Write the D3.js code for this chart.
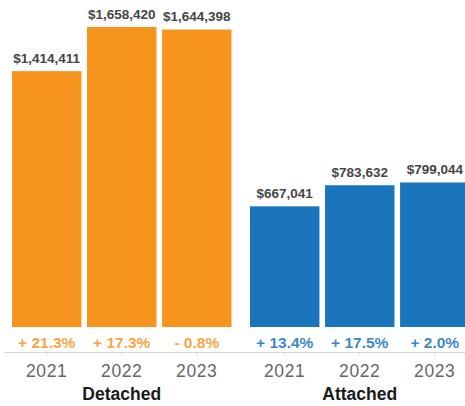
<!DOCTYPE html>
<html>
<head>
<meta charset="utf-8">
<script src="https://cdn.jsdelivr.net/npm/d3@7"></script>
<style>
  html, body { margin: 0; padding: 0; background: #fff; }
  svg { display: block; font-family: "Liberation Sans", Arial, sans-serif; }
</style>
</head>
<body>
<svg id="chart" width="465" height="406"></svg>
<script>
// Median sale prices by year, split by home type
const years = ["2021", "2022", "2023"];
const detachedPrices = [1414411, 1658420, 1644398];
const attachedPrices = [667041, 783632, 799044];
const detachedChange = ["+ 21.3%", "+ 17.3%", "- 0.8%"];
const attachedChange = ["+ 13.4%", "+ 17.5%", "+ 2.0%"];
const groupNames = ["Detached", "Attached"];

const groups = [
  { name: groupNames[0], values: detachedPrices, change: detachedChange,
    range: [12, 231.5], bar: "#F7941D", text: "#F6A444" },
  { name: groupNames[1], values: attachedPrices, change: attachedChange,
    range: [250, 469.5], bar: "#1B75BC", text: "#3F88C6" }
];

const svg = d3.select("#chart");
const baseY = 327;
const topY = 27;

const y = d3.scaleLinear()
  .domain([0, d3.max(detachedPrices.concat(attachedPrices))])
  .range([baseY, topY]);

const fmt = d3.format("$,");

// continuous axis baseline under the change labels
svg.append("line")
  .attr("x1", 4).attr("x2", 465)
  .attr("y1", 352.5).attr("y2", 352.5)
  .attr("stroke", "#d6d6d6").attr("stroke-width", 1);

groups.forEach(g => {
  const x = d3.scaleBand()
    .domain(years)
    .range(g.range)
    .paddingInner(0.075)
    .paddingOuter(0);

  const data = years.map((yr, i) => ({ yr, v: g.values[i], c: g.change[i] }));
  const layer = svg.append("g");

  layer.selectAll("rect")
    .data(data)
    .join("rect")
    .attr("x", d => x(d.yr))
    .attr("y", d => y(d.v))
    .attr("width", x.bandwidth())
    .attr("height", d => y(0) - y(d.v))
    .attr("fill", g.bar);

  layer.selectAll("text.value")
    .data(data)
    .join("text")
    .attr("class", "value")
    .attr("x", d => x(d.yr) + x.bandwidth() / 2)
    .attr("y", d => y(d.v) - 8.5)
    .attr("text-anchor", "middle")
    .attr("font-size", 13.5)
    .attr("font-weight", "bold")
    .attr("fill", "#454545")
    .text(d => fmt(d.v));

  layer.selectAll("text.change")
    .data(data)
    .join("text")
    .attr("class", "change")
    .attr("x", d => x(d.yr) + x.bandwidth() / 2)
    .attr("y", 348)
    .attr("text-anchor", "middle")
    .attr("font-size", 15.5)
    .attr("font-weight", "bold")
    .attr("fill", g.text)
    .text(d => d.c);

  const axis = d3.axisBottom(x).tickSize(3).tickPadding(9).tickSizeOuter(0);
  const ax = layer.append("g")
    .attr("transform", "translate(0,352.5)")
    .call(axis);
  ax.select(".domain").remove();
  ax.selectAll(".tick line").attr("stroke", "#d6d6d6");
  ax.selectAll(".tick text")
    .attr("font-family", "'Liberation Sans', Arial, sans-serif")
    .attr("font-size", 17.5)
    .attr("letter-spacing", 0.6)
    .attr("fill", "#666");

  layer.append("text")
    .attr("x", (g.range[0] + g.range[1]) / 2)
    .attr("y", 400)
    .attr("text-anchor", "middle")
    .attr("font-size", 17.5)
    .attr("font-weight", "bold")
    .attr("fill", "#1a1a1a")
    .text(g.name);
});
</script>
</body>
</html>
